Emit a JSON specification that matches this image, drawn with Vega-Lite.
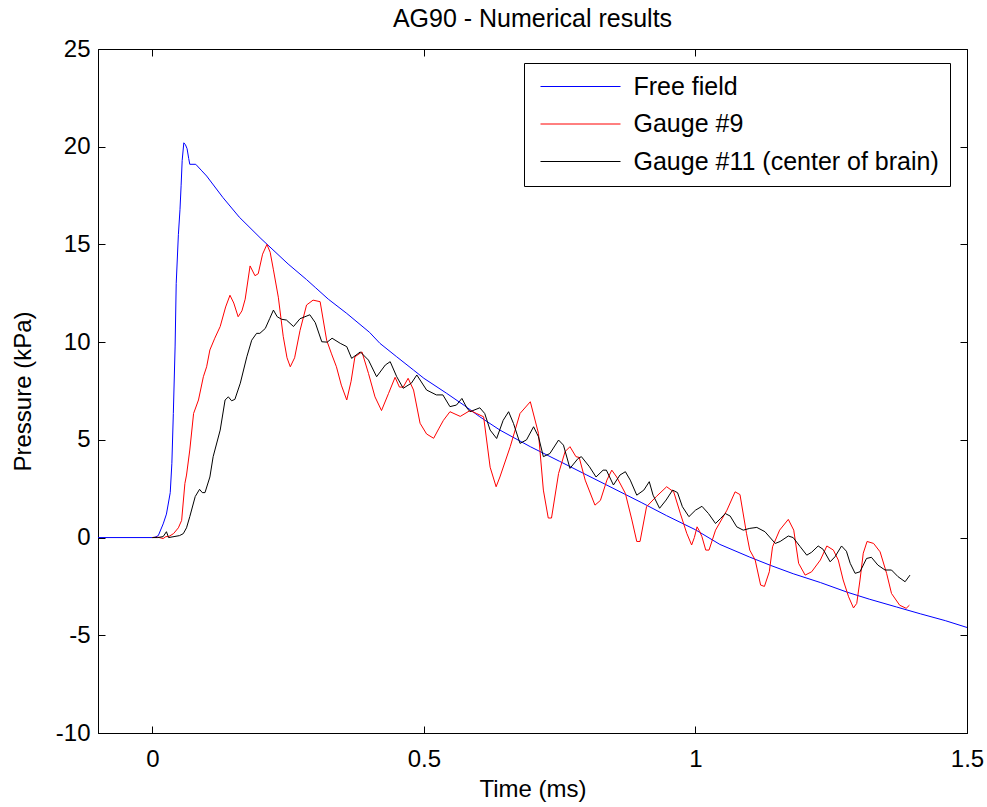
{
 "$schema": "https://vega.github.io/schema/vega-lite/v6.json",
 "width": 869, "height": 684,
 "autosize": {"type": "none"},
 "padding": {"left": 98, "top": 49, "right": 20, "bottom": 74},
 "background": "white",
 "title": {"text": "AG90 - Numerical results", "font": "Liberation Sans", "fontSize": 25, "fontWeight": "normal", "color": "black", "anchor": "middle", "baseline": "alphabetic", "offset": 0, "dy": 15},
 "config": {
  "view": {"stroke": "black", "strokeWidth": 1},
  "axis": {"grid": false, "domainColor": "black", "domainWidth": 1, "tickColor": "black", "tickWidth": 1, "tickSize": -7, "labelColor": "black", "labelFont": "Liberation Sans", "labelFontSize": 24, "labelFlush": false, "labelOverlap": false, "titleColor": "black", "titleFont": "Liberation Sans", "titleFontSize": 24, "titleFontWeight": "normal"}
 },
 "datasets": {
  "frame": [{"t": 0, "p": 0}],
  "curves": [
{"series":"Free field","t":-0.1,"p":0},{"series":"Free field","t":0,"p":0},{"series":"Free field","t":0.005,"p":0.02},{"series":"Free field","t":0.011,"p":0.1},{"series":"Free field","t":0.02,"p":0.7},{"series":"Free field","t":0.026,"p":1.2},{"series":"Free field","t":0.033,"p":2.3},{"series":"Free field","t":0.036,"p":3.8},{"series":"Free field","t":0.0387,"p":6.35},{"series":"Free field","t":0.042,"p":9.8},{"series":"Free field","t":0.044,"p":13},{"series":"Free field","t":0.048,"p":15.5},{"series":"Free field","t":0.051,"p":16.8},{"series":"Free field","t":0.053,"p":18},{"series":"Free field","t":0.055,"p":19.3},{"series":"Free field","t":0.058,"p":20.2},{"series":"Free field","t":0.061,"p":20.1},{"series":"Free field","t":0.064,"p":19.9},{"series":"Free field","t":0.067,"p":19.4},{"series":"Free field","t":0.069,"p":19.1},{"series":"Free field","t":0.08,"p":19.1},{"series":"Free field","t":0.09,"p":18.8},{"series":"Free field","t":0.1,"p":18.5},{"series":"Free field","t":0.13,"p":17.4},{"series":"Free field","t":0.16,"p":16.4},{"series":"Free field","t":0.2,"p":15.3},{"series":"Free field","t":0.25,"p":14},{"series":"Free field","t":0.284,"p":13.2},{"series":"Free field","t":0.3,"p":12.8},{"series":"Free field","t":0.324,"p":12.2},{"series":"Free field","t":0.358,"p":11.47},{"series":"Free field","t":0.4,"p":10.5},{"series":"Free field","t":0.419,"p":9.94},{"series":"Free field","t":0.45,"p":9.25},{"series":"Free field","t":0.481,"p":8.57},{"series":"Free field","t":0.5,"p":8.15},{"series":"Free field","t":0.542,"p":7.38},{"series":"Free field","t":0.575,"p":6.75},{"series":"Free field","t":0.603,"p":6.18},{"series":"Free field","t":0.64,"p":5.5},{"series":"Free field","t":0.696,"p":4.65},{"series":"Free field","t":0.75,"p":3.9},{"series":"Free field","t":0.8,"p":3.2},{"series":"Free field","t":0.85,"p":2.5},{"series":"Free field","t":0.9,"p":1.8},{"series":"Free field","t":0.947,"p":1.12},{"series":"Free field","t":1,"p":0.4},{"series":"Free field","t":1.045,"p":-0.35},{"series":"Free field","t":1.1,"p":-1},{"series":"Free field","t":1.138,"p":-1.42},{"series":"Free field","t":1.18,"p":-1.85},{"series":"Free field","t":1.23,"p":-2.3},{"series":"Free field","t":1.28,"p":-2.8},{"series":"Free field","t":1.32,"p":-3.15},{"series":"Free field","t":1.37,"p":-3.55},{"series":"Free field","t":1.414,"p":-3.9},{"series":"Free field","t":1.46,"p":-4.25},{"series":"Free field","t":1.5,"p":-4.6},
{"series":"Gauge #9","t":0,"p":0},{"series":"Gauge #9","t":0.01,"p":0.02},{"series":"Gauge #9","t":0.02,"p":-0.05},{"series":"Gauge #9","t":0.025,"p":0.05},{"series":"Gauge #9","t":0.03,"p":0.05},{"series":"Gauge #9","t":0.039,"p":0.2},{"series":"Gauge #9","t":0.048,"p":0.5},{"series":"Gauge #9","t":0.054,"p":0.88},{"series":"Gauge #9","t":0.06,"p":2.77},{"series":"Gauge #9","t":0.063,"p":3.2},{"series":"Gauge #9","t":0.069,"p":4.48},{"series":"Gauge #9","t":0.076,"p":6.35},{"series":"Gauge #9","t":0.085,"p":7.04},{"series":"Gauge #9","t":0.094,"p":8.23},{"series":"Gauge #9","t":0.1,"p":8.74},{"series":"Gauge #9","t":0.106,"p":9.6},{"series":"Gauge #9","t":0.115,"p":10.2},{"series":"Gauge #9","t":0.125,"p":10.8},{"series":"Gauge #9","t":0.135,"p":11.8},{"series":"Gauge #9","t":0.143,"p":12.4},{"series":"Gauge #9","t":0.15,"p":12},{"series":"Gauge #9","t":0.158,"p":11.3},{"series":"Gauge #9","t":0.165,"p":11.6},{"series":"Gauge #9","t":0.171,"p":12.2},{"series":"Gauge #9","t":0.18,"p":13.9},{"series":"Gauge #9","t":0.189,"p":13.4},{"series":"Gauge #9","t":0.195,"p":13.5},{"series":"Gauge #9","t":0.203,"p":14.5},{"series":"Gauge #9","t":0.211,"p":15},{"series":"Gauge #9","t":0.217,"p":14.6},{"series":"Gauge #9","t":0.223,"p":13.7},{"series":"Gauge #9","t":0.232,"p":12.3},{"series":"Gauge #9","t":0.241,"p":10.3},{"series":"Gauge #9","t":0.248,"p":9.2},{"series":"Gauge #9","t":0.254,"p":8.74},{"series":"Gauge #9","t":0.262,"p":9.2},{"series":"Gauge #9","t":0.272,"p":10.6},{"series":"Gauge #9","t":0.284,"p":11.9},{"series":"Gauge #9","t":0.296,"p":12.15},{"series":"Gauge #9","t":0.309,"p":12.07},{"series":"Gauge #9","t":0.321,"p":10.1},{"series":"Gauge #9","t":0.33,"p":9.4},{"series":"Gauge #9","t":0.339,"p":8.74},{"series":"Gauge #9","t":0.348,"p":7.8},{"series":"Gauge #9","t":0.358,"p":7.04},{"series":"Gauge #9","t":0.366,"p":8},{"series":"Gauge #9","t":0.373,"p":9.25},{"series":"Gauge #9","t":0.386,"p":9.5},{"series":"Gauge #9","t":0.398,"p":8.4},{"series":"Gauge #9","t":0.41,"p":7.2},{"series":"Gauge #9","t":0.422,"p":6.5},{"series":"Gauge #9","t":0.435,"p":7.38},{"series":"Gauge #9","t":0.447,"p":8.2},{"series":"Gauge #9","t":0.455,"p":7.7},{"series":"Gauge #9","t":0.462,"p":7.7},{"series":"Gauge #9","t":0.471,"p":8.15},{"series":"Gauge #9","t":0.481,"p":7.55},{"series":"Gauge #9","t":0.493,"p":5.85},{"series":"Gauge #9","t":0.505,"p":5.3},{"series":"Gauge #9","t":0.518,"p":5.08},{"series":"Gauge #9","t":0.528,"p":5.6},{"series":"Gauge #9","t":0.536,"p":6},{"series":"Gauge #9","t":0.548,"p":6.44},{"series":"Gauge #9","t":0.567,"p":6.2},{"series":"Gauge #9","t":0.585,"p":6.5},{"series":"Gauge #9","t":0.597,"p":6.35},{"series":"Gauge #9","t":0.61,"p":6.18},{"series":"Gauge #9","t":0.622,"p":3.6},{"series":"Gauge #9","t":0.633,"p":2.6},{"series":"Gauge #9","t":0.64,"p":3.1},{"series":"Gauge #9","t":0.659,"p":4.65},{"series":"Gauge #9","t":0.677,"p":6.35},{"series":"Gauge #9","t":0.696,"p":6.95},{"series":"Gauge #9","t":0.711,"p":5.33},{"series":"Gauge #9","t":0.72,"p":2.43},{"series":"Gauge #9","t":0.729,"p":1},{"series":"Gauge #9","t":0.735,"p":1},{"series":"Gauge #9","t":0.748,"p":3.28},{"series":"Gauge #9","t":0.76,"p":4.4},{"series":"Gauge #9","t":0.769,"p":4.65},{"series":"Gauge #9","t":0.78,"p":4.14},{"series":"Gauge #9","t":0.786,"p":4.1},{"series":"Gauge #9","t":0.797,"p":2.94},{"series":"Gauge #9","t":0.815,"p":1.66},{"series":"Gauge #9","t":0.825,"p":1.9},{"series":"Gauge #9","t":0.837,"p":2.94},{"series":"Gauge #9","t":0.846,"p":3.45},{"series":"Gauge #9","t":0.855,"p":3.1},{"series":"Gauge #9","t":0.871,"p":2.26},{"series":"Gauge #9","t":0.883,"p":0.9},{"series":"Gauge #9","t":0.892,"p":-0.2},{"series":"Gauge #9","t":0.898,"p":-0.2},{"series":"Gauge #9","t":0.91,"p":1.58},{"series":"Gauge #9","t":0.928,"p":2.1},{"series":"Gauge #9","t":0.947,"p":2.6},{"series":"Gauge #9","t":0.96,"p":2.34},{"series":"Gauge #9","t":0.972,"p":1.25},{"series":"Gauge #9","t":0.984,"p":0.22},{"series":"Gauge #9","t":0.993,"p":-0.38},{"series":"Gauge #9","t":0.998,"p":0},{"series":"Gauge #9","t":1.003,"p":0.55},{"series":"Gauge #9","t":1.008,"p":0.3},{"series":"Gauge #9","t":1.012,"p":0.04},{"series":"Gauge #9","t":1.019,"p":-0.64},{"series":"Gauge #9","t":1.025,"p":-0.64},{"series":"Gauge #9","t":1.037,"p":0.38},{"series":"Gauge #9","t":1.058,"p":1.4},{"series":"Gauge #9","t":1.073,"p":2.34},{"series":"Gauge #9","t":1.082,"p":2.2},{"series":"Gauge #9","t":1.094,"p":0.22},{"series":"Gauge #9","t":1.1,"p":-0.64},{"series":"Gauge #9","t":1.11,"p":-1.15},{"series":"Gauge #9","t":1.12,"p":-2.43},{"series":"Gauge #9","t":1.127,"p":-2.5},{"series":"Gauge #9","t":1.136,"p":-1.75},{"series":"Gauge #9","t":1.142,"p":-0.47},{"series":"Gauge #9","t":1.155,"p":0.38},{"series":"Gauge #9","t":1.171,"p":0.93},{"series":"Gauge #9","t":1.181,"p":0.38},{"series":"Gauge #9","t":1.19,"p":-1.32},{"series":"Gauge #9","t":1.202,"p":-1.92},{"series":"Gauge #9","t":1.214,"p":-1.75},{"series":"Gauge #9","t":1.23,"p":-1.15},{"series":"Gauge #9","t":1.242,"p":-0.43},{"series":"Gauge #9","t":1.254,"p":-0.64},{"series":"Gauge #9","t":1.263,"p":-1.15},{"series":"Gauge #9","t":1.272,"p":-2.17},{"series":"Gauge #9","t":1.282,"p":-3.03},{"series":"Gauge #9","t":1.291,"p":-3.6},{"series":"Gauge #9","t":1.297,"p":-3.37},{"series":"Gauge #9","t":1.303,"p":-2.17},{"series":"Gauge #9","t":1.309,"p":-0.8},{"series":"Gauge #9","t":1.316,"p":-0.2},{"series":"Gauge #9","t":1.328,"p":-0.3},{"series":"Gauge #9","t":1.34,"p":-0.73},{"series":"Gauge #9","t":1.352,"p":-1.83},{"series":"Gauge #9","t":1.361,"p":-2.86},{"series":"Gauge #9","t":1.376,"p":-3.46},{"series":"Gauge #9","t":1.388,"p":-3.62},{"series":"Gauge #9","t":1.394,"p":-3.46},
{"series":"Gauge #11 (center of brain)","t":0,"p":0},{"series":"Gauge #11 (center of brain)","t":0.01,"p":0},{"series":"Gauge #11 (center of brain)","t":0.02,"p":0.05},{"series":"Gauge #11 (center of brain)","t":0.026,"p":0.3},{"series":"Gauge #11 (center of brain)","t":0.03,"p":0},{"series":"Gauge #11 (center of brain)","t":0.04,"p":0.05},{"series":"Gauge #11 (center of brain)","t":0.05,"p":0.1},{"series":"Gauge #11 (center of brain)","t":0.057,"p":0.2},{"series":"Gauge #11 (center of brain)","t":0.063,"p":0.5},{"series":"Gauge #11 (center of brain)","t":0.069,"p":1.07},{"series":"Gauge #11 (center of brain)","t":0.079,"p":2.1},{"series":"Gauge #11 (center of brain)","t":0.087,"p":2.47},{"series":"Gauge #11 (center of brain)","t":0.092,"p":2.3},{"series":"Gauge #11 (center of brain)","t":0.097,"p":2.3},{"series":"Gauge #11 (center of brain)","t":0.106,"p":3.1},{"series":"Gauge #11 (center of brain)","t":0.112,"p":4.14},{"series":"Gauge #11 (center of brain)","t":0.125,"p":5.5},{"series":"Gauge #11 (center of brain)","t":0.134,"p":7.04},{"series":"Gauge #11 (center of brain)","t":0.14,"p":7.2},{"series":"Gauge #11 (center of brain)","t":0.146,"p":7},{"series":"Gauge #11 (center of brain)","t":0.152,"p":7.07},{"series":"Gauge #11 (center of brain)","t":0.162,"p":7.9},{"series":"Gauge #11 (center of brain)","t":0.174,"p":9.25},{"series":"Gauge #11 (center of brain)","t":0.183,"p":10.1},{"series":"Gauge #11 (center of brain)","t":0.192,"p":10.45},{"series":"Gauge #11 (center of brain)","t":0.198,"p":10.45},{"series":"Gauge #11 (center of brain)","t":0.208,"p":10.7},{"series":"Gauge #11 (center of brain)","t":0.216,"p":11.2},{"series":"Gauge #11 (center of brain)","t":0.223,"p":11.64},{"series":"Gauge #11 (center of brain)","t":0.23,"p":11.3},{"series":"Gauge #11 (center of brain)","t":0.238,"p":11.17},{"series":"Gauge #11 (center of brain)","t":0.247,"p":11.13},{"series":"Gauge #11 (center of brain)","t":0.26,"p":10.8},{"series":"Gauge #11 (center of brain)","t":0.272,"p":11.2},{"series":"Gauge #11 (center of brain)","t":0.29,"p":11.4},{"series":"Gauge #11 (center of brain)","t":0.3,"p":11},{"series":"Gauge #11 (center of brain)","t":0.312,"p":10.02},{"series":"Gauge #11 (center of brain)","t":0.322,"p":10},{"series":"Gauge #11 (center of brain)","t":0.331,"p":10.2},{"series":"Gauge #11 (center of brain)","t":0.346,"p":9.94},{"series":"Gauge #11 (center of brain)","t":0.358,"p":9.77},{"series":"Gauge #11 (center of brain)","t":0.367,"p":9.17},{"series":"Gauge #11 (center of brain)","t":0.383,"p":9.5},{"series":"Gauge #11 (center of brain)","t":0.398,"p":9.08},{"series":"Gauge #11 (center of brain)","t":0.413,"p":8.23},{"series":"Gauge #11 (center of brain)","t":0.429,"p":8.83},{"series":"Gauge #11 (center of brain)","t":0.438,"p":9},{"series":"Gauge #11 (center of brain)","t":0.45,"p":8.23},{"series":"Gauge #11 (center of brain)","t":0.462,"p":7.64},{"series":"Gauge #11 (center of brain)","t":0.477,"p":7.9},{"series":"Gauge #11 (center of brain)","t":0.487,"p":8.32},{"series":"Gauge #11 (center of brain)","t":0.505,"p":7.55},{"series":"Gauge #11 (center of brain)","t":0.523,"p":7.3},{"series":"Gauge #11 (center of brain)","t":0.535,"p":7.3},{"series":"Gauge #11 (center of brain)","t":0.548,"p":6.7},{"series":"Gauge #11 (center of brain)","t":0.56,"p":6.78},{"series":"Gauge #11 (center of brain)","t":0.57,"p":7.12},{"series":"Gauge #11 (center of brain)","t":0.579,"p":6.64},{"series":"Gauge #11 (center of brain)","t":0.585,"p":6.44},{"series":"Gauge #11 (center of brain)","t":0.603,"p":6.64},{"series":"Gauge #11 (center of brain)","t":0.612,"p":6.35},{"series":"Gauge #11 (center of brain)","t":0.622,"p":5.5},{"series":"Gauge #11 (center of brain)","t":0.634,"p":5.07},{"series":"Gauge #11 (center of brain)","t":0.646,"p":6},{"series":"Gauge #11 (center of brain)","t":0.656,"p":6.44},{"series":"Gauge #11 (center of brain)","t":0.665,"p":5.84},{"series":"Gauge #11 (center of brain)","t":0.677,"p":4.82},{"series":"Gauge #11 (center of brain)","t":0.689,"p":5},{"series":"Gauge #11 (center of brain)","t":0.702,"p":5.67},{"series":"Gauge #11 (center of brain)","t":0.711,"p":5.16},{"series":"Gauge #11 (center of brain)","t":0.72,"p":4.14},{"series":"Gauge #11 (center of brain)","t":0.732,"p":4.3},{"series":"Gauge #11 (center of brain)","t":0.748,"p":4.99},{"series":"Gauge #11 (center of brain)","t":0.757,"p":4.73},{"series":"Gauge #11 (center of brain)","t":0.769,"p":3.54},{"series":"Gauge #11 (center of brain)","t":0.784,"p":4.05},{"series":"Gauge #11 (center of brain)","t":0.79,"p":4.14},{"series":"Gauge #11 (center of brain)","t":0.805,"p":3.62},{"series":"Gauge #11 (center of brain)","t":0.817,"p":3.1},{"series":"Gauge #11 (center of brain)","t":0.83,"p":3.45},{"series":"Gauge #11 (center of brain)","t":0.836,"p":3.45},{"series":"Gauge #11 (center of brain)","t":0.849,"p":2.69},{"series":"Gauge #11 (center of brain)","t":0.861,"p":3.2},{"series":"Gauge #11 (center of brain)","t":0.871,"p":3.37},{"series":"Gauge #11 (center of brain)","t":0.88,"p":2.94},{"series":"Gauge #11 (center of brain)","t":0.892,"p":2.17},{"series":"Gauge #11 (center of brain)","t":0.905,"p":2.43},{"series":"Gauge #11 (center of brain)","t":0.915,"p":2.86},{"series":"Gauge #11 (center of brain)","t":0.922,"p":2.17},{"series":"Gauge #11 (center of brain)","t":0.934,"p":1.5},{"series":"Gauge #11 (center of brain)","t":0.946,"p":1.92},{"series":"Gauge #11 (center of brain)","t":0.958,"p":2.43},{"series":"Gauge #11 (center of brain)","t":0.967,"p":2.3},{"series":"Gauge #11 (center of brain)","t":0.976,"p":1.58},{"series":"Gauge #11 (center of brain)","t":0.988,"p":1.07},{"series":"Gauge #11 (center of brain)","t":1,"p":1.4},{"series":"Gauge #11 (center of brain)","t":1.012,"p":1.6},{"series":"Gauge #11 (center of brain)","t":1.024,"p":1.23},{"series":"Gauge #11 (center of brain)","t":1.037,"p":0.72},{"series":"Gauge #11 (center of brain)","t":1.046,"p":0.97},{"series":"Gauge #11 (center of brain)","t":1.055,"p":1.23},{"series":"Gauge #11 (center of brain)","t":1.064,"p":1.1},{"series":"Gauge #11 (center of brain)","t":1.076,"p":0.55},{"series":"Gauge #11 (center of brain)","t":1.088,"p":0.38},{"series":"Gauge #11 (center of brain)","t":1.1,"p":0.47},{"series":"Gauge #11 (center of brain)","t":1.113,"p":0.52},{"series":"Gauge #11 (center of brain)","t":1.128,"p":0.3},{"series":"Gauge #11 (center of brain)","t":1.147,"p":-0.3},{"series":"Gauge #11 (center of brain)","t":1.156,"p":-0.2},{"series":"Gauge #11 (center of brain)","t":1.171,"p":0.08},{"series":"Gauge #11 (center of brain)","t":1.18,"p":0},{"series":"Gauge #11 (center of brain)","t":1.193,"p":-0.47},{"series":"Gauge #11 (center of brain)","t":1.205,"p":-0.9},{"series":"Gauge #11 (center of brain)","t":1.214,"p":-0.75},{"series":"Gauge #11 (center of brain)","t":1.226,"p":-0.43},{"series":"Gauge #11 (center of brain)","t":1.235,"p":-0.6},{"series":"Gauge #11 (center of brain)","t":1.248,"p":-1.24},{"series":"Gauge #11 (center of brain)","t":1.257,"p":-0.98},{"series":"Gauge #11 (center of brain)","t":1.269,"p":-0.43},{"series":"Gauge #11 (center of brain)","t":1.278,"p":-0.7},{"series":"Gauge #11 (center of brain)","t":1.285,"p":-1.32},{"series":"Gauge #11 (center of brain)","t":1.294,"p":-1.83},{"series":"Gauge #11 (center of brain)","t":1.303,"p":-1.75},{"series":"Gauge #11 (center of brain)","t":1.315,"p":-1.07},{"series":"Gauge #11 (center of brain)","t":1.324,"p":-1.01},{"series":"Gauge #11 (center of brain)","t":1.336,"p":-1.41},{"series":"Gauge #11 (center of brain)","t":1.349,"p":-1.66},{"series":"Gauge #11 (center of brain)","t":1.361,"p":-1.66},{"series":"Gauge #11 (center of brain)","t":1.373,"p":-2},{"series":"Gauge #11 (center of brain)","t":1.386,"p":-2.26},{"series":"Gauge #11 (center of brain)","t":1.395,"p":-1.92}
  ]
 },
 "layer": [
  {
   "data": {"name": "curves"},
   "mark": {"type": "line", "strokeWidth": 1, "interpolate": "linear"},
   "encoding": {
    "x": {"field": "t", "type": "quantitative", "scale": {"domain": [-0.1, 1.5], "nice": false, "zero": false},
          "axis": {"orient": "bottom", "values": [0, 0.5, 1, 1.5], "labelExpr": "'' + datum.value", "title": "Time (ms)", "labelPadding": 21, "titlePadding": 6}},
    "y": {"field": "p", "type": "quantitative", "scale": {"domain": [-10, 25], "nice": false, "zero": false},
          "axis": {"orient": "left", "values": [-10, -5, 0, 5, 10, 15, 20, 25], "labelExpr": "datum.value < 0 ? '-' + abs(datum.value) : '' + datum.value", "title": "Pressure (kPa)", "labelPadding": 15, "titlePadding": 20}},
    "color": {"field": "series", "type": "nominal",
              "scale": {"domain": ["Free field", "Gauge #9", "Gauge #11 (center of brain)"], "range": ["#0000ff", "#ff0000", "#000000"]},
              "legend": {"title": null, "orient": "none", "legendX": 426, "legendY": 14, "strokeColor": "black", "fillColor": "white", "padding": 11, "cornerRadius": 0, "symbolType": "stroke", "symbolSize": 6400, "symbolStrokeWidth": 1, "symbolOffset": 5, "clipHeight": 25, "labelOffset": 12.5, "labelFont": "Liberation Sans", "labelFontSize": 25, "labelColor": "black", "rowPadding": 11.5, "labelLimit": 0}}
   }
  },
  {
   "data": {"name": "frame"},
   "mark": {"type": "point", "opacity": 0},
   "encoding": {
    "x": {"field": "t", "type": "quantitative", "scale": {"domain": [-0.1, 1.5], "nice": false, "zero": false},
          "axis": {"orient": "top", "values": [0, 0.5, 1, 1.5], "labels": false, "title": null, "domain": false}},
    "y": {"field": "p", "type": "quantitative", "scale": {"domain": [-10, 25], "nice": false, "zero": false},
          "axis": {"orient": "right", "values": [-10, -5, 0, 5, 10, 15, 20, 25], "labels": false, "title": null, "domain": false}}
   }
  }
 ],
 "resolve": {"axis": {"x": "independent", "y": "independent"}}
}
